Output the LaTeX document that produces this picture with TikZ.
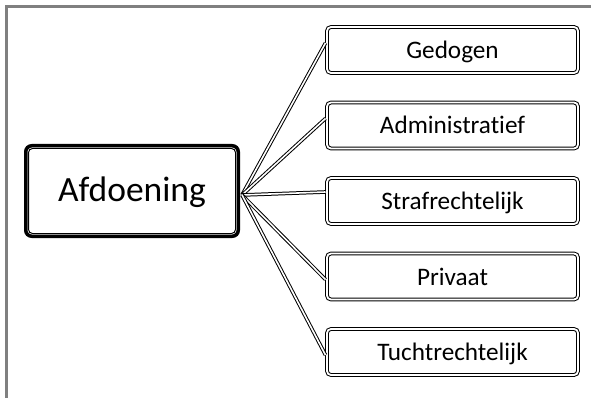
\documentclass[tikz,border=0pt]{standalone}
\usepackage{fontspec}
\setmainfont{Carlito}[Ligatures={NoCommon,NoDiscretionary,NoContextual}]
\usetikzlibrary{calc}
\begin{document}
\begin{tikzpicture}[x=1pt,y=1pt,
  leaf/.style={draw=black, line width=1pt, double=white, double distance=1.8pt,
    rounded corners=4pt, minimum width=251pt, minimum height=46pt, inner sep=0pt,
    text height=17pt, text depth=0pt,
    font=\fontsize{25.2}{30}\selectfont},
  rootbox/.style={draw=black, line width=3.5pt, rounded corners=6pt,
    minimum width=212.5pt, minimum height=90.5pt, inner sep=0pt,
    text height=21.5pt, text depth=0pt,
    font=\fontsize{35.5}{42}\selectfont},
  link/.style={draw=black, line width=1pt, double=white, double distance=1.6pt}]
\useasboundingbox (0,0) rectangle (591,-398);
\fill[white] (0,0) rectangle (591,-398);
% gray frame
\draw[line width=3pt, color=black!50] (6.5,-398) -- (6.5,-6.3) -- (591,-6.3);
% root
\node[rootbox] (root) at (132,-191) {Afdoening};
\draw[line width=1pt, rounded corners=4pt]
  ($(root.north west)+(4.5,-4.5)$) rectangle ($(root.south east)+(-4.5,4.5)$);
% leaves
\node[leaf] (g) at (452.5,-50) {Gedogen};
\node[leaf] (a) at (452.5,-125.5) {Administratief};
\node[leaf] (s) at (452.5,-201) {Strafrechtelijk};
\node[leaf] (p) at (452.5,-276.5) {Privaat};
\node[leaf] (t) at (452.5,-352) {Tuchtrechtelijk};
% connectors
\coordinate (o) at ($(root.east)+(2,-4)$);
\draw[link] (o) -- ($(g.west)+(-1,7)$);
\draw[link] (o) -- ($(a.west)+(-1,7)$);
\draw[link] (o) -- ($(s.west)+(-1,9)$);
\draw[link] (o) -- ($(p.west)+(-1,-3)$);
\draw[link] (o) -- ($(t.west)+(-1,-3)$);
\end{tikzpicture}
\end{document}
